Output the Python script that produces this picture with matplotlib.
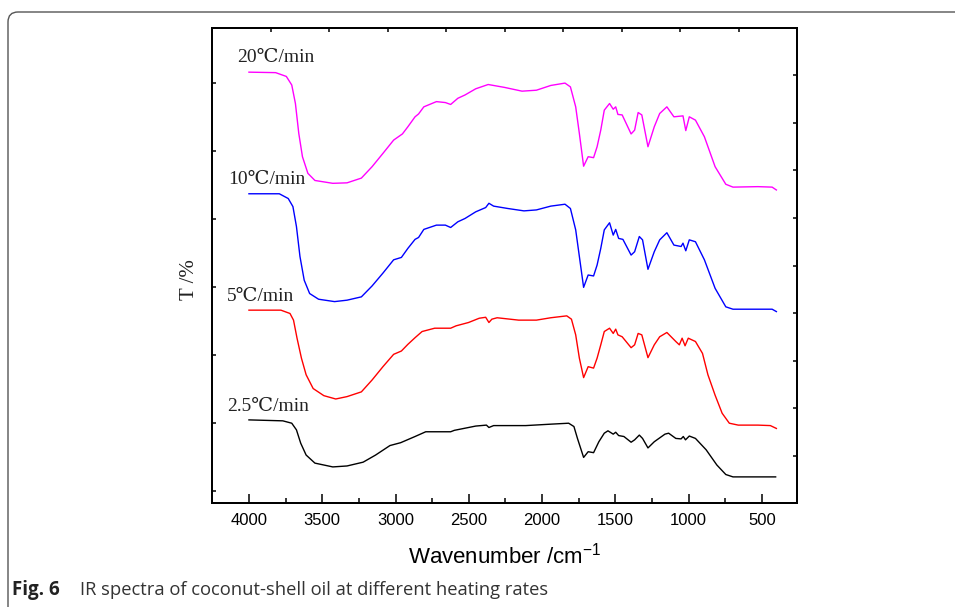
import matplotlib
matplotlib.use("Agg")
import matplotlib.pyplot as plt
from matplotlib.patches import FancyBboxPatch
from matplotlib.transforms import IdentityTransform

# === DATI ===
labels = ["20℃/min", "10℃/min", "5℃/min", "2.5℃/min"]
colors = ["#FF00FF", "#0000FF", "#FF0000", "#000000"]

wn_20 = [4000, 3818, 3745, 3708, 3683, 3660, 3635, 3598, 3550, 3428, 3331, 3233, 3160, 3086, 3013,
         2953, 2916, 2867, 2843, 2807, 2721, 2660, 2624, 2575, 2526, 2453, 2368, 2258, 2137, 2039,
         1941, 1844, 1807, 1771, 1746, 1717, 1686, 1649, 1625, 1600, 1576, 1540, 1515, 1498, 1483,
         1454, 1393, 1369, 1345, 1320, 1278, 1235, 1198, 1149, 1101, 1039, 1020, 996, 954, 893,
         820, 747, 698, 528, 431, 402]
t_20 = [90.7, 90.6, 89.8, 88.0, 84.1, 77.8, 72.9, 69.4, 67.9, 67.3, 67.4, 68.4, 70.8, 73.6, 76.4,
        77.7, 79.2, 81.3, 81.9, 83.4, 84.5, 84.3, 83.9, 85.2, 85.9, 87.2, 88.1, 87.5, 86.7, 86.9,
        87.9, 88.4, 87.6, 83.4, 77.8, 70.9, 72.9, 72.7, 75.0, 78.5, 82.7, 84.1, 82.9, 83.4, 81.8,
        81.7, 77.7, 78.5, 82.2, 81.7, 75.0, 79.2, 82.0, 83.4, 81.3, 81.5, 78.4, 81.3, 80.6, 77.1,
        70.8, 67.1, 66.5, 66.6, 66.5, 65.9]

wn_10 = [4000, 3793, 3732, 3700, 3676, 3652, 3623, 3586, 3525, 3416, 3331, 3233, 3160, 3086, 3013,
         2960, 2916, 2867, 2843, 2807, 2721, 2660, 2624, 2575, 2526, 2453, 2385, 2363, 2331, 2234,
         2124, 2039, 1941, 1844, 1807, 1771, 1746, 1717, 1686, 1649, 1625, 1600, 1576, 1540, 1515,
         1498, 1478, 1449, 1393, 1369, 1337, 1315, 1278, 1235, 1198, 1149, 1101, 1052, 1039, 1020,
         996, 954, 893, 820, 747, 698, 528, 431, 402]
t_10 = [65.1, 65.1, 64.1, 62.4, 58.2, 51.9, 46.9, 44.1, 42.9, 42.4, 42.7, 43.4, 45.7, 48.4, 51.2,
        51.7, 53.6, 55.5, 55.9, 57.6, 58.5, 58.5, 58.0, 59.2, 59.9, 61.3, 62.2, 63.1, 62.5, 62.0,
        61.5, 61.7, 62.5, 62.9, 62.0, 57.5, 51.9, 45.4, 48.0, 47.8, 50.1, 53.6, 57.5, 59.0, 56.4,
        57.6, 55.7, 55.5, 52.2, 52.9, 56.1, 55.4, 49.2, 52.9, 55.4, 56.9, 54.3, 54.0, 54.7, 53.1,
        55.4, 55.0, 51.2, 45.2, 41.3, 40.8, 40.8, 40.8, 40.3]

wn_5 = [4000, 3782, 3720, 3696, 3672, 3642, 3610, 3562, 3489, 3408, 3331, 3233, 3160, 3086, 3013,
        2960, 2916, 2867, 2819, 2733, 2624, 2587, 2502, 2429, 2385, 2363, 2343, 2307, 2160, 2039,
        1941, 1832, 1800, 1771, 1746, 1717, 1686, 1649, 1625, 1600, 1576, 1540, 1515, 1498, 1483,
        1454, 1393, 1369, 1345, 1320, 1278, 1235, 1198, 1149, 1088, 1064, 1045, 1025, 1003, 954,
        906, 869, 820, 772, 723, 662, 528, 443, 402]
t_5 = [40.6, 40.6, 39.9, 38.5, 34.7, 30.5, 27.0, 24.1, 22.6, 21.9, 22.4, 23.4, 25.9, 28.7, 31.3,
       32.0, 33.4, 34.8, 36.1, 36.8, 36.8, 37.3, 38.0, 38.9, 39.1, 38.0, 38.7, 39.0, 38.5, 38.5,
       39.0, 39.4, 38.7, 35.4, 30.5, 26.4, 28.7, 28.4, 30.5, 33.3, 36.1, 36.8, 35.7, 36.6, 35.4,
       35.0, 32.7, 33.3, 35.7, 35.4, 30.6, 33.3, 35.0, 35.9, 34.0, 33.3, 34.7, 33.1, 34.7, 34.0,
       31.5, 27.0, 22.7, 18.9, 16.8, 16.4, 16.4, 16.3, 15.7]

wn_25 = [4000, 3769, 3708, 3676, 3647, 3610, 3550, 3428, 3331, 3221, 3136, 3038, 2965, 2867, 2794,
         2624, 2599, 2453, 2380, 2363, 2331, 2112, 1941, 1819, 1783, 1759, 1717, 1686, 1649, 1613,
         1576, 1551, 1515, 1498, 1478, 1442, 1393, 1369, 1337, 1315, 1278, 1235, 1162, 1137, 1088,
         1052, 1037, 1022, 996, 954, 881, 808, 747, 698, 528, 407]
t_25 = [17.5, 17.3, 16.8, 15.4, 12.6, 10.1, 8.4, 7.6, 7.8, 8.6, 10.1, 12.1, 12.7, 14.0, 15.0,
        15.0, 15.3, 16.2, 16.4, 15.9, 16.3, 16.3, 16.6, 16.8, 16.1, 13.6, 9.6, 10.8, 10.6, 12.9,
        14.7, 15.2, 14.5, 14.9, 14.2, 14.0, 12.8, 13.3, 14.3, 13.6, 11.6, 12.9, 14.5, 14.7, 13.6,
        13.5, 14.0, 13.3, 14.1, 13.6, 11.2, 8.0, 6.0, 5.5, 5.5, 5.5]

x_ticks = [4000, 3500, 3000, 2500, 2000, 1500, 1000, 500]
x_minor = [4250, 3750, 3250, 2750, 2250, 1750, 1250, 750]

# posizioni etichette delle curve (numero d'onda, T)
label_pos = [(4082, 93.7), (4143, 68.0), (4150, 43.4), (4150, 20.4)]

SERIF = ["Liberation Serif", "DejaVu Serif", "Noto Sans CJK SC"]
SANS = ["Liberation Sans", "DejaVu Sans"]
CAPTION = ["Open Sans", "DejaVu Sans"]


def main():
    plt.rcParams["mathtext.fontset"] = "custom"
    plt.rcParams["mathtext.rm"] = "Liberation Sans"
    plt.rcParams["mathtext.it"] = "Liberation Sans"

    fig = plt.figure(figsize=(9.55, 6.07), dpi=100)
    ax = fig.add_axes([0.222, 0.1713, 0.6126, 0.7826])

    series = [(wn_20, t_20), (wn_10, t_10), (wn_5, t_5), (wn_25, t_25)]
    for (wn, t), c, lab, pos in zip(series, colors, labels, label_pos):
        ax.plot(wn, t, color=c, lw=1.0)
        ax.text(pos[0], pos[1], lab, ha="left", va="center", fontsize=14,
                family=SERIF, color="#222222")

    ax.set_xlim(4252, 261)
    ax.set_ylim(0, 100)

    ax.set_xticks(x_ticks)
    ax.set_xticks(x_minor, minor=True)
    ax.set_xticklabels([str(v) for v in x_ticks], family=SANS, fontsize=12)
    ax.tick_params(axis="x", which="major", direction="in", length=6.5, width=1.1, pad=7)
    ax.tick_params(axis="x", which="minor", direction="in", length=3.5, width=1.1)

    ax.set_yticks([2.6, 16.9, 31.2, 45.5, 59.8, 74.2, 88.5])
    ax.set_yticklabels([])
    ax.tick_params(axis="y", direction="in", length=3, width=1.1)

    for sp in ax.spines.values():
        sp.set_linewidth(1.2)

    # assi secondari (destra e sopra) con tacche proprie
    ax_r = ax.twinx()
    ax_r.set_ylim(0, 10)
    ax_r.set_yticks(range(1, 10))
    ax_r.set_yticklabels([])
    ax_r.tick_params(axis="y", direction="in", length=3, width=1.1)
    ax_t = ax.twiny()
    ax_t.set_xlim(0, 10)
    ax_t.set_xticks(range(1, 10))
    ax_t.set_xticklabels([])
    ax_t.tick_params(axis="x", direction="in", length=3, width=1.1)
    for a in (ax_r, ax_t):
        for sp in a.spines.values():
            sp.set_linewidth(1.2)

    fig.text(504.5 / 955, 1 - 556 / 607, "Wavenumber /cm$^{-1}$", ha="center", va="center",
             fontsize=16, family=SANS)
    fig.text(190 / 955, 1 - 280 / 607, "T /%", rotation=90, ha="center", va="center",
             fontsize=15, family=SERIF, color="#222222")

    # didascalia
    fig.text(12 / 955, 1 - 590 / 607, "Fig. 6", ha="left", va="center", fontsize=13.5,
             family=CAPTION, weight="bold", color="#222222")
    fig.text(80 / 955, 1 - 590 / 607, "IR spectra of coconut-shell oil at different heating rates",
             ha="left", va="center", fontsize=13.2, family=CAPTION, color="#333333")

    # cornice arrotondata
    frame = FancyBboxPatch((8, -30), 1000, 625, boxstyle="round,pad=0,rounding_size=10",
                           transform=IdentityTransform(), fill=False, ec="#555555", lw=1.0)
    fig.patches.append(frame)

    fig.savefig("out.png", dpi=100)
    plt.close(fig)


if __name__ == "__main__":
    main()
